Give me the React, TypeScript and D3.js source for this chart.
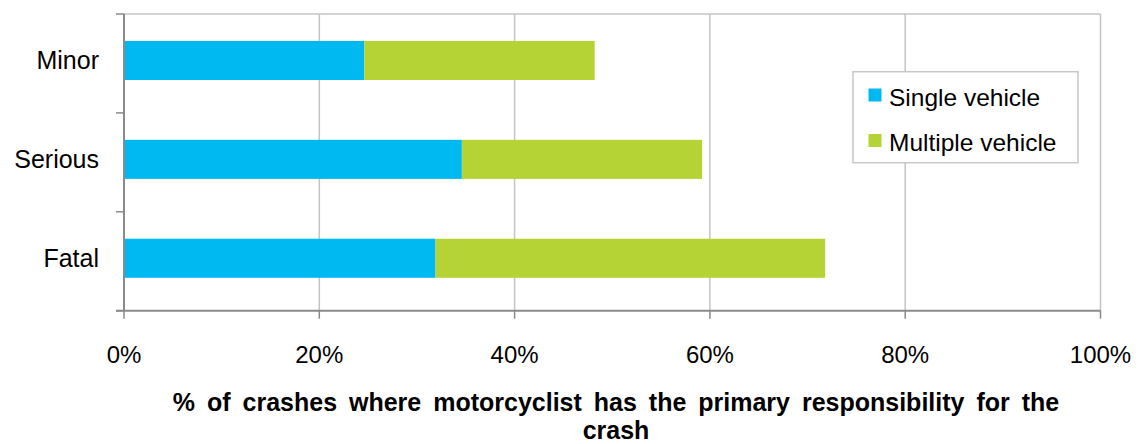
import React from "react";
import * as d3 from "d3";

// Severity categories, top to bottom
const categories = ["Minor", "Serious", "Fatal"];
// Share of crashes (fraction) where the motorcyclist was primarily responsible
const singleVehicle = [0.246, 0.346, 0.319];
const multipleVehicle = [0.236, 0.246, 0.399];
const seriesNames = ["Single vehicle", "Multiple vehicle"];
const seriesColors = ["#00B9F0", "#B5D334"];
const xTicks = [0, 0.2, 0.4, 0.6, 0.8, 1.0];
const titleLines = [
  "% of crashes where motorcyclist has the primary responsibility for the",
  "crash",
];

const W = 1145;
const H = 444;
const FONT = "'Liberation Sans', Arial, Helvetica, sans-serif";

export default function App() {
  const left = 124;
  const right = 1100.5;
  const top = 14;
  const bottom = 310.7;

  const x = d3.scaleLinear().domain([0, 1]).range([left, right]);
  const y = d3
    .scaleBand<string>()
    .domain(categories)
    .range([top, bottom])
    .paddingInner(0.605)
    .paddingOuter(0.3025)
    .align(0.45);

  const step = y.step();
  const bandEdges = categories.map((_, i) => top + i * step).concat([bottom]);

  const rows = categories.map((c, i) => {
    const s = singleVehicle[i];
    const m = multipleVehicle[i];
    return { c, parts: [ { x0: 0, x1: s }, { x0: s, x1: s + m } ] };
  });

  const pct = d3.format(".0%");

  return (
    <svg
      width={W}
      height={H}
      style={{ position: "absolute", left: 0, top: 0, background: "#fff" }}
      fontFamily={FONT}
    >
      {/* top border of the plot area */}
      <line x1={left} x2={right} y1={top} y2={top} stroke="#c4c4c4" strokeWidth={1.5} />

      {/* vertical gridlines */}
      {xTicks.slice(1).map((t) => (
        <line
          key={`g${t}`}
          x1={x(t)}
          x2={x(t)}
          y1={top}
          y2={bottom}
          stroke="#c4c4c4"
          strokeWidth={1.5}
        />
      ))}

      {/* stacked bars */}
      {rows.map((r) =>
        r.parts.map((p, j) => (
          <rect
            key={`${r.c}-${j}`}
            x={x(p.x0)}
            y={y(r.c)}
            width={x(p.x1) - x(p.x0)}
            height={y.bandwidth()}
            fill={seriesColors[j]}
          />
        ))
      )}

      {/* y axis */}
      <line x1={left} x2={left} y1={top} y2={bottom} stroke="#8a8a8a" strokeWidth={2} />
      {bandEdges.map((e, i) => (
        <line key={`yt${i}`} x1={left - 8} x2={left} y1={e} y2={e} stroke="#8a8a8a" strokeWidth={1.5} />
      ))}

      {/* x axis */}
      <line x1={left - 8} x2={right} y1={bottom} y2={bottom} stroke="#8a8a8a" strokeWidth={2} />
      {xTicks.map((t) => (
        <line key={`xt${t}`} x1={x(t)} x2={x(t)} y1={bottom} y2={bottom + 8} stroke="#8a8a8a" strokeWidth={1.5} />
      ))}

      {/* tick labels */}
      {xTicks.map((t) => (
        <text key={`xl${t}`} x={x(t)} y={363} textAnchor="middle" fontSize={24} fill="#000">
          {pct(t)}
        </text>
      ))}

      {/* category labels */}
      {categories.map((c) => (
        <text
          key={`yl${c}`}
          x={99}
          y={(y(c) as number) + y.bandwidth() / 2}
          dy="0.35em"
          textAnchor="end"
          fontSize={25}
          fill="#000"
        >
          {c}
        </text>
      ))}

      {/* axis title */}
      {titleLines.map((line, i) => (
        <text
          key={`tt${i}`}
          x={616}
          y={411 + i * 28}
          textAnchor="middle"
          fontSize={25}
          fontWeight="bold"
          wordSpacing={i === 0 ? 5 : 0}
          fill="#000"
        >
          {line}
        </text>
      ))}

      {/* legend */}
      <g>
        <rect x={853} y={71.7} width={225} height={91} fill="#fff" stroke="#c8c8c8" strokeWidth={1.5} />
        {seriesNames.map((n, i) => (
          <g key={n}>
            <rect x={868.5} y={88.5 + i * 45.5} width={13} height={13} fill={seriesColors[i]} />
            <text x={889} y={105.7 + i * 45} fontSize={24.5} fill="#000">
              {n}
            </text>
          </g>
        ))}
      </g>
    </svg>
  );
}
